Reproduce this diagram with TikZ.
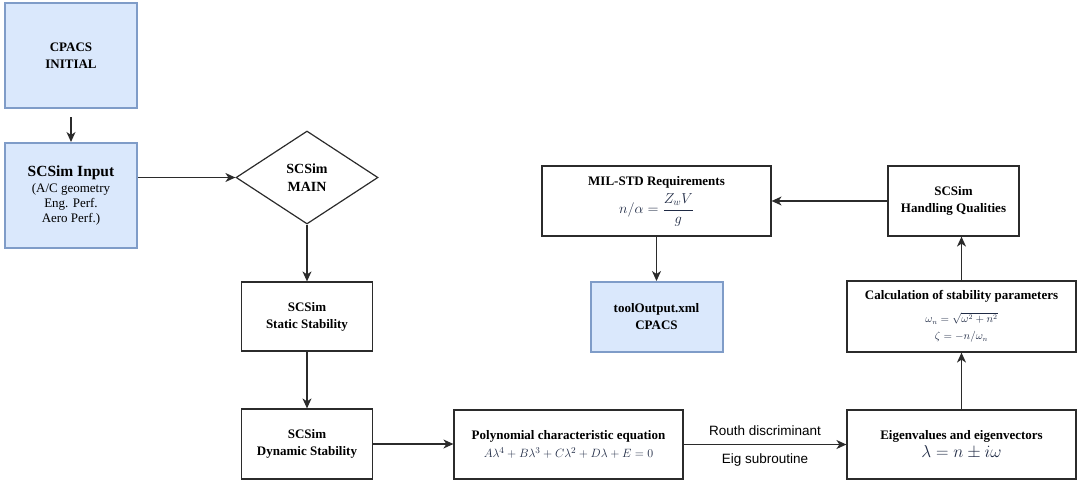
\documentclass[tikz,border=0pt]{standalone}
\usepackage{fontspec}
\setmainfont{Liberation Serif}
\newfontfamily\arialf{Liberation Sans}
\usetikzlibrary{shapes.geometric,arrows.meta}
\definecolor{bluefill}{HTML}{DAE8FC}
\definecolor{blueline}{HTML}{7F9CC8}
\definecolor{boxline}{HTML}{2B2B2B}
\definecolor{mathcol}{HTML}{1F2A44}
\tikzset{
  bluebox/.style={draw=blueline, fill=bluefill, line width=2pt, inner sep=0pt, align=center,
    font=\fontsize{13}{17}\selectfont\bfseries},
  plainbox/.style={draw=boxline, line width=1.2pt, inner sep=0pt, align=center,
    font=\fontsize{13}{17}\selectfont\bfseries},
  decision/.style={diamond, draw=boxline, line width=1.2pt, inner sep=0pt, aspect=1.53, align=center,
    font=\fontsize{14}{18}\selectfont\bfseries},
  conn/.style={draw=boxline, line width=1.3pt, -{Stealth[length=10pt,width=9pt,inset=3pt]}},
  edgelabel/.style={font=\arialf\fontsize{13.5}{16}\selectfont, text=black}
}
\begin{document}
\begin{tikzpicture}[x=1pt,y=-1pt]
\useasboundingbox (0,0) rectangle (1077,483);

\node[bluebox, minimum width=132pt, minimum height=105pt] (cpacs) at (71,55.5) {CPACS\\INITIAL};
\node[bluebox, minimum width=132pt, minimum height=105pt] (input) at (71,195.5)
  {{\fontsize{15.5}{19}\selectfont SCSim Input}\\[-1pt]
   {\mdseries (A/C geometry}\\[-2pt]{\mdseries Eng. Perf.}\\[-2pt]{\mdseries Aero Perf.)}};
\node[decision, minimum width=142pt, minimum height=93pt] (main) at (307,177.5) {SCSim\\MAIN};
\node[plainbox, minimum width=131pt, minimum height=69pt] (static) at (307,316.5) {SCSim\\Static Stability};
\node[plainbox, minimum width=131pt, minimum height=70pt] (dyn) at (307,444) {SCSim\\Dynamic Stability};
\node[plainbox, minimum width=229pt, minimum height=69pt] (poly) at (568.5,444.5)
  {Polynomial characteristic equation\\[1pt]
   \color{mathcol}\mdseries $A\lambda^4+B\lambda^3+C\lambda^2+D\lambda+E=0$};
\node[plainbox, minimum width=229pt, minimum height=69pt] (eigen) at (961.5,444.5)
  {Eigenvalues and eigenvectors\\[1pt]
   \color{mathcol}\mdseries\fontsize{17}{20}\selectfont $\lambda=n\pm i\omega$};
\node[plainbox, minimum width=229pt, minimum height=71pt] (calc) at (961.5,316.5)
  {Calculation of stability parameters\\[6pt]
   \color{mathcol}\mdseries\fontsize{10.5}{14}\selectfont $\omega_n=\sqrt{\omega^2+n^2}$\\[0pt]
   \color{mathcol}\mdseries\fontsize{10.5}{14}\selectfont $\zeta=-n/\omega_n$};
\node[plainbox, minimum width=131pt, minimum height=70pt] (hq) at (953.5,201) {SCSim\\Handling Qualities};
\node[plainbox, minimum width=229pt, minimum height=70pt] (mil) at (656.5,201)
  {MIL-STD Requirements\\[5pt]
   \color{mathcol}\mdseries\fontsize{14}{17}\selectfont $n/\alpha=\displaystyle\frac{Z_wV}{g}$};
\node[bluebox, minimum width=132pt, minimum height=70pt] (out) at (656.5,317) {toolOutput.xml\\CPACS};

\coordinate (c0) at (71,117);
\draw[conn] (c0) -- (input.north);
\draw[conn] (input.east |- main.west) -- (main.west);
\draw[conn] (main.south) -- (static.north);
\draw[conn] (static.south) -- (dyn.north);
\draw[conn] (dyn.east) -- (dyn.east -| poly.west);
\draw[conn] (poly.east) -- (eigen.west)
  node[midway, above=5pt, edgelabel] {Routh discriminant}
  node[midway, below=5pt, edgelabel] {Eig subroutine};
\draw[conn] (eigen.north) -- (calc.south);
\draw[conn] (calc.north) -- (calc.north |- hq.south);
\draw[conn] (hq.west) -- (mil.east);
\draw[conn] (mil.south) -- (out.north);
\end{tikzpicture}
\end{document}
